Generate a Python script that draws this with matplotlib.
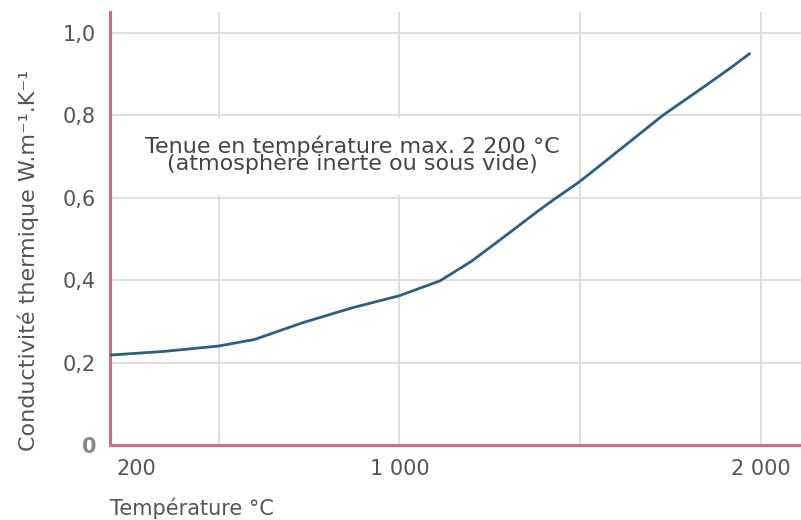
import matplotlib
matplotlib.use("Agg")
import matplotlib.pyplot as plt
import matplotlib.transforms as mtransforms
from matplotlib.patches import Rectangle

# Data
temperature = [200, 350, 500, 600, 734, 871, 1000, 1112, 1200, 1291, 1384, 1428, 1494, 1529, 1729, 1839, 1913, 1968]
conductivity = [0.218, 0.227, 0.240, 0.256, 0.297, 0.333, 0.362, 0.398, 0.446, 0.506, 0.568, 0.596, 0.636, 0.660, 0.800, 0.867, 0.913, 0.949]

x_ticks = [200, 1000, 2000]
x_tick_labels = ["200", "1 000", "2 000"]
x_grid = [500, 1000, 1500, 2000]
y_ticks = [0, 0.2, 0.4, 0.6, 0.8, 1.0]
y_tick_labels = ["0", "0,2", "0,4", "0,6", "0,8", "1,0"]

W, H = 801, 520
fig = plt.figure(figsize=(W / 100, H / 100), dpi=100)
ax = fig.add_axes([110 / W, 1 - 445 / H, (W - 110) / W, (445 - 12) / H])

ax.set_xlim(200, 2110)
ax.set_ylim(0, 1.05)

grid_col = "#dcdcdc"
for gx in x_grid:
    ax.axvline(gx, color=grid_col, lw=1.3, zorder=0)
for gy in y_ticks[1:]:
    ax.axhline(gy, color=grid_col, lw=1.3, zorder=0)

ax.plot(temperature, conductivity, color="#2d5f7e", lw=2.0, zorder=3,
        solid_capstyle="round", solid_joinstyle="round")

axis_col = "#d46a84"
for s in ["top", "right"]:
    ax.spines[s].set_visible(False)
ax.spines["left"].set_color(axis_col)
ax.spines["bottom"].set_color(axis_col)
ax.spines["left"].set_linewidth(2.2)
ax.spines["bottom"].set_linewidth(2.2)

ax.set_xticks(x_ticks)
ax.set_xticklabels(x_tick_labels)
ax.set_yticks(y_ticks)
ax.set_yticklabels(y_tick_labels)
ax.tick_params(length=0, labelsize=15, labelcolor="#555555")
ax.tick_params(axis="x", pad=10)
ax.tick_params(axis="y", pad=10)
xl = ax.get_xticklabels()
xl[0].set_horizontalalignment("left")
xl[0].set_transform(xl[0].get_transform() + mtransforms.ScaledTranslation(7 / 100, 0, fig.dpi_scale_trans))
yl = ax.get_yticklabels()
yl[0].set_fontweight("bold")
yl[0].set_color("#888888")

fig.text(110 / W, 1 - 508 / H, "Température °C", ha="left", va="center",
         fontsize=15, color="#555555")
fig.text(28 / W, 1 - 260 / H, "Conductivité thermique W.m⁻¹.K⁻¹", rotation=90,
         ha="center", va="center", fontsize=16, color="#555555")

# white panel behind the annotation (hides the vertical grid lines)
ax.add_patch(Rectangle((0.008, 0.606), 0.655, 0.188, fc="white", ec="none", zorder=1,
                       transform=ax.get_yaxis_transform()))
ax.text(870, 0.704, "Tenue en température max. 2 200 °C\n(atmosphère inerte ou sous vide)",
        ha="center", va="center", fontsize=16, color="#444444", linespacing=0.76,
        zorder=2)

fig.savefig("out.png", dpi=100, facecolor="white")
